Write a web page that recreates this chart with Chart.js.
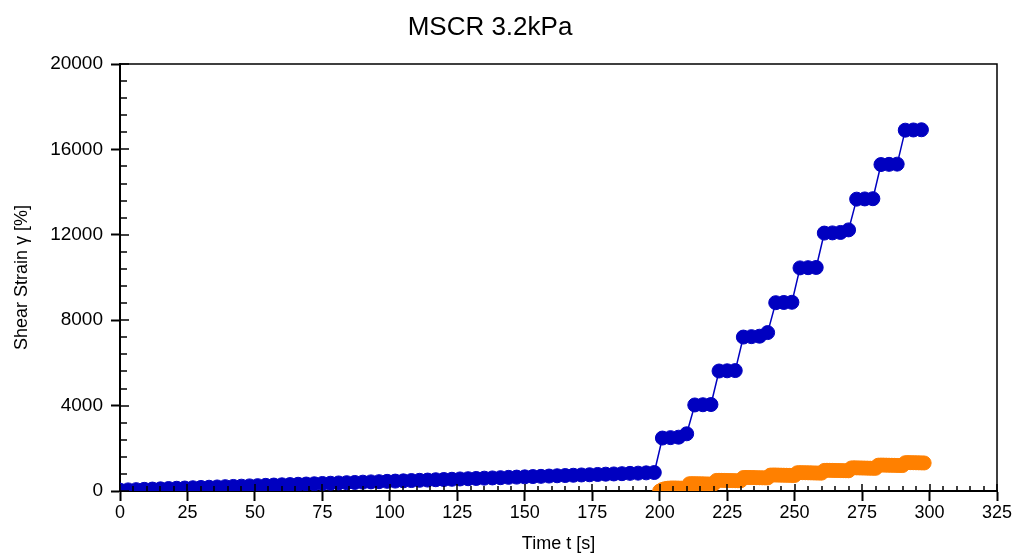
<!DOCTYPE html>
<html lang="en">
<head>
  <meta charset="UTF-8">
  <title>MSCR 3.2kPa</title>
  <script src="https://cdn.jsdelivr.net/npm/chart.js"></script>
  <style>
    html, body { margin: 0; padding: 0; background: #fff; }
    #wrap { position: relative; width: 1023px; height: 555px; }
    #title {
      position: absolute; top: 11px; left: 370px; width: 240px;
      text-align: center; font: 26px "Liberation Sans", Arial, sans-serif; color: #000;
    }
  </style>
</head>
<body>
  <div id="wrap">
    <canvas id="chart" width="1023" height="555"></canvas>
    <div id="title">MSCR 3.2kPa</div>
  </div>

  <script>
    // time points [s], whole test
    const timeBlue = [
      0, 3, 6, 9, 12, 15, 18, 21, 24, 27, 30, 33, 36, 39, 42, 45, 48, 51, 54, 57,
      60, 63, 66, 69, 72, 75, 78, 81, 84, 87, 90, 93, 96, 99, 102, 105, 108, 111, 114, 117,
      120, 123, 126, 129, 132, 135, 138, 141, 144, 147, 150, 153, 156, 159, 162, 165, 168, 171, 174, 177,
      180, 183, 186, 189, 192, 195, 198,
      201, 204, 207, 210, 213, 216, 219, 222, 225, 228, 231, 234, 237, 240,
      243, 246, 249, 252, 255, 258, 261, 264, 267, 270, 273, 276, 279, 282, 285, 288,
      291, 294, 297
    ];
    // shear strain [%], whole test
    const strainBlue = [
      40, 52, 64, 78, 90, 101, 115, 128, 139, 152, 166, 176, 189, 203, 214, 226, 240, 251, 264, 278,
      289, 300, 315, 326, 338, 352, 363, 377, 389, 400, 414, 427, 437, 452, 463, 475, 489, 500, 512, 527,
      538, 549, 564, 575, 587, 601, 612, 624, 639, 650, 662, 676, 686, 700, 713, 724, 737, 751, 761, 775,
      788, 799, 811, 826, 836, 849, 865,
      2480, 2500, 2520, 2680, 4030, 4040, 4050, 5620, 5630, 5640, 7210, 7230, 7250, 7420,
      8820, 8830, 8840, 10450, 10460, 10470, 12080, 12090, 12110, 12230, 13670, 13680, 13690, 15290, 15300, 15310,
      16900, 16910, 16920
    ];
    // time points [s], 3.2 kPa stage
    const timeOrange = [
      200, 201, 202, 203, 204, 205, 206, 207, 208, 209, 210,
      211, 212, 213, 214, 215, 216, 217, 218, 219, 220,
      221, 222, 223, 224, 225, 226, 227, 228, 229, 230,
      231, 232, 233, 234, 235, 236, 237, 238, 239, 240,
      241, 242, 243, 244, 245, 246, 247, 248, 249, 250,
      251, 252, 253, 254, 255, 256, 257, 258, 259, 260,
      261, 262, 263, 264, 265, 266, 267, 268, 269, 270,
      271, 272, 273, 274, 275, 276, 277, 278, 279, 280,
      281, 282, 283, 284, 285, 286, 287, 288, 289, 290,
      291, 292, 293, 294, 295, 296, 297, 298
    ];
    // shear strain [%], 3.2 kPa stage
    const strainOrange = [
      0, 70, 110, 130, 140, 142, 140, 137, 134, 131, 128,
      340, 345, 343, 340, 337, 334, 331, 328, 325, 322,
      495, 500, 498, 495, 492, 489, 486, 483, 480, 477,
      630, 635, 633, 630, 627, 624, 621, 618, 615, 612,
      745, 750, 748, 745, 742, 739, 736, 733, 730, 727,
      855, 860, 858, 855, 852, 849, 846, 843, 840, 837,
      965, 970, 968, 965, 962, 959, 956, 953, 950, 947,
      1080, 1085, 1083, 1080, 1077, 1074, 1071, 1068, 1065, 1062,
      1210, 1215, 1213, 1210, 1207, 1204, 1201, 1198, 1195, 1192,
      1325, 1330, 1328, 1325, 1322, 1319, 1316, 1313
    ];
    const xTicks = [0, 25, 50, 75, 100, 125, 150, 175, 200, 225, 250, 275, 300, 325];
    const yTicks = [0, 4000, 8000, 12000, 16000, 20000];

    const blue = '#0000C0';
    const orange = '#FF8000';
    const family = '"Liberation Sans", Arial, sans-serif';

    const toPoints = (xs, ys) => xs.map((x, i) => ({ x: x, y: ys[i] }));

    // box + minor ticks like the rheometer software draws them
    const axisDeco = {
      id: 'axisDeco',
      afterDraw(chart) {
        const { ctx, chartArea: a, scales: { x, y } } = chart;
        ctx.save();
        ctx.strokeStyle = '#000';
        ctx.lineWidth = 1.5;
        ctx.beginPath();
        ctx.moveTo(a.left, a.top);
        ctx.lineTo(a.right, a.top);
        ctx.lineTo(a.right, a.bottom);
        ctx.stroke();
        ctx.beginPath();
        for (let v = 0; v <= 325; v += 5) {
          const px = Math.round(x.getPixelForValue(v));
          const len = v % 25 === 0 ? 7 : 5;
          ctx.moveTo(px, a.bottom);
          ctx.lineTo(px, a.bottom - len);
        }
        for (let v = 0; v <= 20000; v += 800) {
          const py = Math.round(y.getPixelForValue(v));
          const len = v % 4000 === 0 ? 9 : 7;
          ctx.moveTo(a.left, py);
          ctx.lineTo(a.left + len, py);
        }
        ctx.stroke();
        ctx.restore();
      }
    };

    new Chart(document.getElementById('chart'), {
      type: 'scatter',
      data: {
        datasets: [
          {
            label: 'Shear Strain',
            data: toPoints(timeBlue, strainBlue),
            showLine: true,
            borderColor: blue,
            borderWidth: 1.5,
            backgroundColor: blue,
            pointRadius: 7,
            pointBorderWidth: 1,
            pointHoverRadius: 7,
            clip: 0
          },
          {
            label: 'Shear Strain 3.2kPa',
            data: toPoints(timeOrange, strainOrange),
            showLine: true,
            borderColor: orange,
            borderWidth: 1.5,
            backgroundColor: orange,
            pointRadius: 7,
            pointBorderWidth: 1,
            pointHoverRadius: 7,
            clip: 0
          }
        ]
      },
      options: {
        responsive: false,
        animation: false,
        layout: { padding: { left: 0, right: 26, top: 64, bottom: 0 } },
        plugins: { legend: { display: false }, tooltip: { enabled: false } },
        scales: {
          x: {
            type: 'linear',
            min: 0, max: 325,
            afterBuildTicks: s => { s.ticks = xTicks.map(v => ({ value: v })); },
            afterFit: s => { s.height = 64; },
            grid: { drawOnChartArea: false, tickLength: 10, tickWidth: 2, tickColor: '#000' },
            border: { display: true, color: '#000', width: 2 },
            ticks: { color: '#000', font: { family: family, size: 18 }, padding: 1, maxRotation: 0, callback: v => String(v) },
            title: { display: true, text: 'Time t [s]', color: '#000', font: { family: family, size: 18 }, padding: 0 }
          },
          y: {
            min: 0, max: 20000,
            afterBuildTicks: s => { s.ticks = yTicks.map(v => ({ value: v })); },
            afterFit: s => { s.width = 120; },
            grid: { drawOnChartArea: false, tickLength: 9, tickWidth: 2, tickColor: '#000' },
            border: { display: true, color: '#000', width: 2 },
            ticks: { color: '#000', font: { family: family, size: 19 }, padding: 8, callback: v => String(v) },
            title: { display: true, text: 'Shear Strain γ [%]', color: '#000', font: { family: family, size: 18 }, padding: { top: 11, bottom: 0 } }
          }
        }
      },
      plugins: [axisDeco]
    });
  </script>
</body>
</html>
